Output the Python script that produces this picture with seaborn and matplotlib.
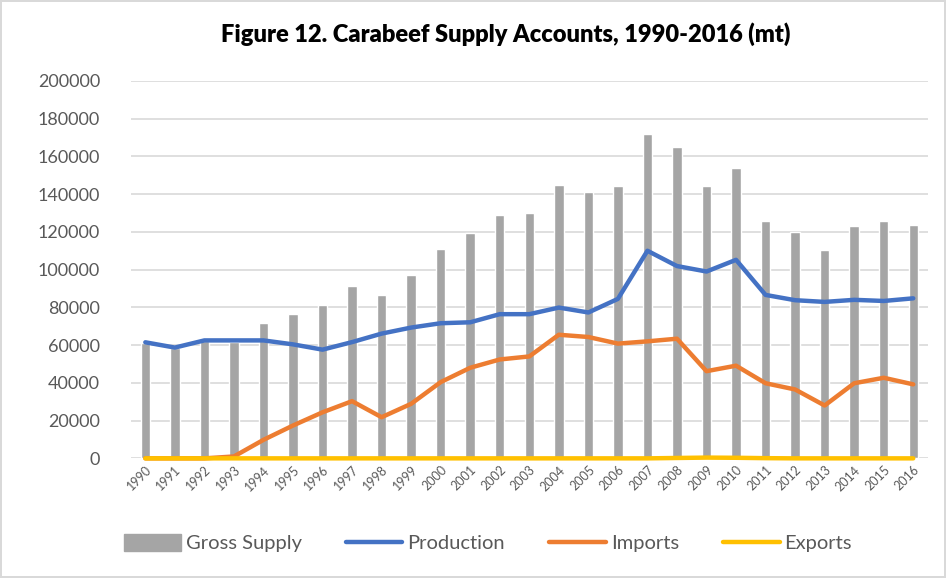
import numpy as np
import pandas as pd
import matplotlib.pyplot as plt
import seaborn as sns
from matplotlib.patches import Patch
from matplotlib.lines import Line2D

years = list(range(1990, 2017))
gross_supply = [61000, 58500, 62000, 61500, 71700, 76700, 81100, 91400, 86600, 97100,
                111200, 119600, 128800, 130000, 144900, 141200, 144500, 172100, 164900,
                144400, 154100, 125600, 119900, 110300, 123100, 125600, 123600]
production = [61500, 58700, 62500, 62500, 62500, 60400, 57600, 61600, 66100, 69300,
              71600, 72100, 76400, 76400, 79900, 77300, 84500, 110000, 101900,
              99000, 105200, 86600, 83800, 82900, 84000, 83400, 84800]
imports = [0, 0, 0, 1000, 9800, 17400, 24400, 30300, 21800, 28900,
           40400, 48000, 52400, 54000, 65500, 64300, 60800, 62000, 63400,
           46200, 49100, 39800, 36500, 28000, 39800, 42700, 39200]
exports = [0, 0, 0, 0, 0, 0, 0, 0, 0, 0,
           0, 0, 0, 0, 0, 0, 0, 0, 200,
           400, 300, 100, 0, 0, 0, 0, 0]

df = pd.DataFrame({'Year': years, 'Gross Supply': gross_supply, 'Production': production,
                   'Imports': imports, 'Exports': exports})

sns.set_style("white")
plt.rcParams['font.family'] = ['Lato', 'DejaVu Sans']

colors = {'Gross Supply': '#a5a5a5', 'Production': '#4472c4',
          'Imports': '#ed7d31', 'Exports': '#ffc000'}

fig = plt.figure(figsize=(9.46, 5.78), dpi=100, edgecolor='#d9d9d9', linewidth=1.5)
ax = fig.add_axes([0.138, 0.207, 0.843, 0.653])

sns.barplot(data=df, x='Year', y='Gross Supply', native_scale=True, width=0.32,
            color=colors['Gross Supply'], saturation=1, ax=ax, zorder=2)
for col in ['Production', 'Imports', 'Exports']:
    sns.lineplot(data=df, x='Year', y=col, color=colors[col], linewidth=3.2,
                 ax=ax, zorder=3, solid_capstyle='round', clip_on=False)

ax.set_xlim(years[0] - 0.5, years[-1] + 0.5)
ax.set_ylim(0, 200000)
ax.set_yticks(np.arange(0, 200001, 20000))
ax.set_xticks(years)
ax.set_xticklabels([str(y) for y in years], rotation=45, ha='right',
                   rotation_mode='anchor', fontsize=9, color='#595959')
ax.tick_params(axis='y', labelsize=13, labelcolor='#595959', length=0, pad=22)
ax.tick_params(axis='x', length=0, pad=4)
ax.yaxis.grid(True, color='#d9d9d9', linewidth=1.2, zorder=0)
ax.set_axisbelow(True)
for s in ax.spines.values():
    s.set_visible(False)
ax.set_xlabel('')
ax.set_ylabel('')

fig.suptitle('Figure 12. Carabeef Supply Accounts, 1990-2016 (mt)', x=0.535, y=0.962,
             fontsize=17, fontweight='heavy', color='black')

handles = [Patch(color=colors['Gross Supply']),
           Line2D([], [], color=colors['Production'], linewidth=3.2, solid_capstyle='round'),
           Line2D([], [], color=colors['Imports'], linewidth=3.2, solid_capstyle='round'),
           Line2D([], [], color=colors['Exports'], linewidth=3.2, solid_capstyle='round')]
labels = ['Gross Supply', 'Production', 'Imports', 'Exports']
leg = fig.legend(handles, labels, loc='center', bbox_to_anchor=(0.516, 0.06), ncol=4,
                 frameon=False, fontsize=14.5, handlelength=2.8, handletextpad=0.25,
                 columnspacing=2.2, handleheight=0.9)
for t in leg.get_texts():
    t.set_color('#595959')

fig.savefig('out.png', dpi=100, edgecolor=fig.get_edgecolor())
